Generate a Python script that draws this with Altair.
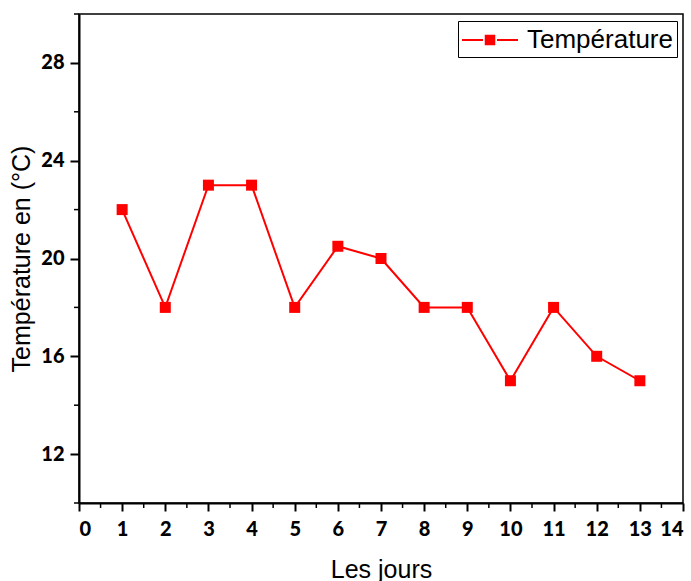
import altair as alt
import pandas as pd

jours = list(range(1, 14))
temperatures = [22, 18, 23, 23, 18, 20.5, 20, 18, 18, 15, 18, 16, 15]
series_name = "Température"

x_major = list(range(0, 15))
x_minor = [i + 0.5 for i in range(0, 14)]
y_major = [12, 16, 20, 24, 28]
y_minor = [10, 14, 18, 22, 26, 30]

W, H = 604, 489

df = pd.DataFrame({"jour": jours, "temp": temperatures, "s": [series_name] * len(jours)})
dfx = pd.DataFrame({"v": x_minor})
dfy = pd.DataFrame({"v": y_minor})

xs = alt.Scale(domain=[0, 14], nice=False, zero=False)
ys = alt.Scale(domain=[10, 30], nice=False, zero=False)

label_font = "Lato"
title_font = "Liberation Sans"

xaxis = alt.Axis(values=x_major, format="d", tickSize=8, tickWidth=2, tickColor="black",
                 domainColor="black", domainWidth=2, labelFont=label_font, labelFontSize=20,
                 labelFontWeight=900, labelColor="black", labelPadding=8, grid=False,
                 title="Les jours", titleFont=title_font, titleFontSize=25,
                 titleFontWeight="normal", titleColor="black", titlePadding=18)
yaxis = alt.Axis(values=y_major, format="d", tickSize=9, tickWidth=2, tickColor="black",
                 domainColor="black", domainWidth=2, labelFont=label_font, labelFontSize=20,
                 labelFontWeight=900, labelColor="black", labelPadding=6, grid=False,
                 title="Température en (°C)", titleFont=title_font, titleFontSize=25,
                 titleFontWeight="normal", titleColor="black", titlePadding=6)

line = alt.Chart(df).mark_line(color="#ff0000", strokeWidth=2).encode(
    x=alt.X("jour:Q", scale=xs, axis=xaxis),
    y=alt.Y("temp:Q", scale=ys, axis=yaxis),
)

legend_path = ("M-1.867,-0.067 L-0.467,-0.067 L-0.467,0.067 L-1.867,0.067 Z "
               "M-0.35,-0.35 L0.35,-0.35 L0.35,0.35 L-0.35,0.35 Z "
               "M0.467,-0.067 L1.867,-0.067 L1.867,0.067 L0.467,0.067 Z")

points = alt.Chart(df).mark_square(size=121, filled=True, opacity=1).encode(
    x=alt.X("jour:Q", scale=xs),
    y=alt.Y("temp:Q", scale=ys),
    color=alt.Color("s:N", scale=alt.Scale(range=["#ff0000"]),
                    legend=alt.Legend(title=None, orient="none", legendX=379, legendY=7,
                                      symbolType=legend_path, symbolSize=900,
                                      symbolOffset=13,
                                      symbolStrokeWidth=0, symbolOpacity=1,
                                      labelFont=title_font, labelFontSize=26,
                                      labelColor="black", labelOffset=22,
                                      strokeColor="black", padding=4,
                                      cornerRadius=0)),
)

xminor = alt.Chart(dfx).mark_rule(color="black", strokeWidth=1.5).encode(
    x=alt.X("v:Q", scale=xs), y=alt.value(H), y2=alt.value(H + 5)
)
yminor = alt.Chart(dfy).mark_rule(color="black", strokeWidth=1.5).encode(
    y=alt.Y("v:Q", scale=ys), x=alt.value(-5), x2=alt.value(0)
)

chart = alt.layer(line, points, xminor, yminor).properties(
    width=W, height=H,
    autosize=alt.AutoSizeParams(type="none"),
    padding={"left": 79, "top": 14, "right": 8, "bottom": 78},
    background="white",
).configure_view(stroke="black", strokeWidth=1.5)

chart.save("out.html", embed_options={"renderer": "svg", "actions": False})
